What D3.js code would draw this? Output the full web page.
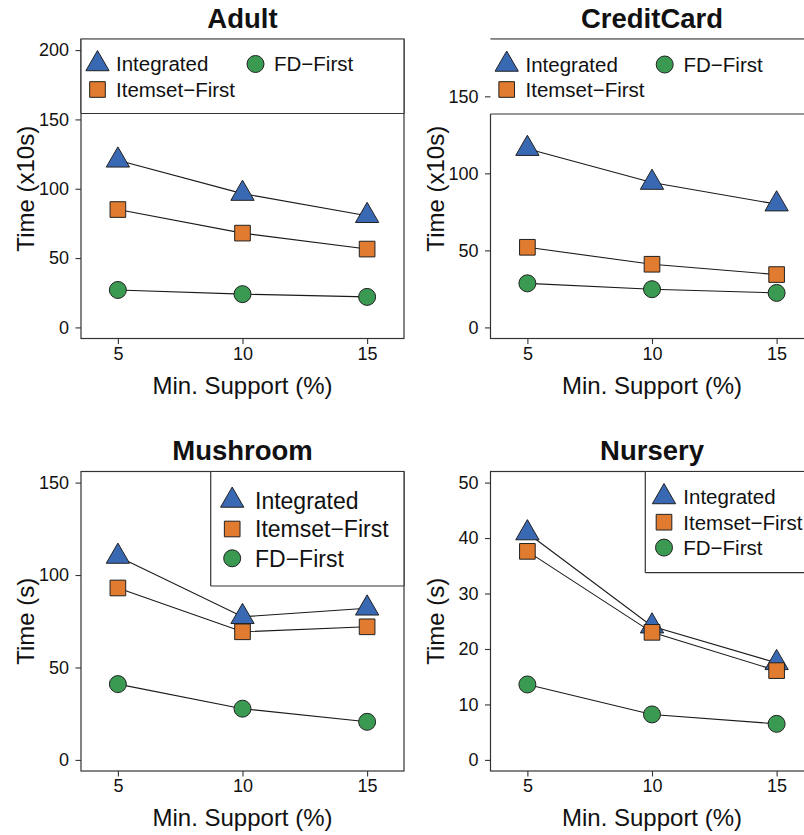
<!DOCTYPE html>
<html>
<head>
<meta charset="utf-8">
<script src="https://cdn.jsdelivr.net/npm/d3@7"></script>
<style>
  body { margin: 0; background: #fff; }
  svg { display: block; }
  text { font-family: "Liberation Sans", Arial, Helvetica, sans-serif; fill: #111; }
</style>
</head>
<body>
<svg id="chart" width="804" height="835"></svg>
<script>
// Minimum support levels on the x axis (%)
const supportLevels = [5, 10, 15];
const seriesNames = ["Integrated", "Itemset\u2212First", "FD\u2212First"];

// Running times per dataset (Adult and CreditCard in units of 10 s, others in s)
const adultIntegrated = [120.5, 96.5, 80.5];
const adultItemsetFirst = [85, 68, 56.5];
const adultFDFirst = [27, 24, 22];

const creditIntegrated = [116, 94, 80];
const creditItemsetFirst = [52, 41, 34.3];
const creditFDFirst = [28.6, 24.8, 22.4];

const mushroomIntegrated = [110, 77.4, 82];
const mushroomItemsetFirst = [93, 69.3, 72];
const mushroomFDFirst = [41, 27.7, 20.6];

const nurseryIntegrated = [40.9, 24.1, 17.5];
const nurseryItemsetFirst = [37.6, 23, 16.1];
const nurseryFDFirst = [13.6, 8.2, 6.5];

// Tick labels
const xTicks = [5, 10, 15];
const adultTicks = [0, 50, 100, 150, 200];
const creditTicks = [0, 50, 100, 150];
const mushroomTicks = [0, 50, 100, 150];
const nurseryTicks = [0, 10, 20, 30, 40, 50];

// Styling
const fills = ["#3a69b4", "#e07b2f", "#3a9a52"];
const symbolTypes = [d3.symbolTriangle, d3.symbolSquare, d3.symbolCircle];
const symbolSizes = [235, 245, 227];
const ink = "#333";

const svg = d3.select("#chart");

const panels = [
  { title: "Adult", yTitle: "Time (x10s)", series: [adultIntegrated, adultItemsetFirst, adultFDFirst],
    yTicks: adultTicks, yDomain: [-8, 208], left: 81, top: 39,
    legend: { x0: 81, x1: 404, y0: 39, y1: 113.5, leftBorder: true, font: 20.5,
      items: [ { s: 0, x: 97.5, y: 64, tx: 116 }, { s: 2, x: 255.5, y: 64, tx: 274 }, { s: 1, x: 97.5, y: 89.5, tx: 116 } ] } },
  { title: "CreditCard", yTitle: "Time (x10s)", series: [creditIntegrated, creditItemsetFirst, creditFDFirst],
    yTicks: creditTicks, yDomain: [-7.2, 187.2], left: 490.5, top: 39,
    legend: { x0: 490.5, x1: 813.5, y0: 39, y1: 114, leftBorder: false, font: 20.5,
      items: [ { s: 0, x: 506.7, y: 64.5, tx: 525.5 }, { s: 2, x: 664.7, y: 64.5, tx: 683.5 }, { s: 1, x: 506.7, y: 89.5, tx: 525.5 } ] } },
  { title: "Mushroom", yTitle: "Time (s)", series: [mushroomIntegrated, mushroomItemsetFirst, mushroomFDFirst],
    yTicks: mushroomTicks, yDomain: [-6, 156], left: 81, top: 471.5,
    legend: { x0: 210.7, x1: 404, y0: 471.5, y1: 586, leftBorder: true, font: 23,
      items: [ { s: 0, x: 232.2, y: 500.5, tx: 255 }, { s: 1, x: 232.2, y: 529, tx: 255 }, { s: 2, x: 232.2, y: 558.3, tx: 255 } ] } },
  { title: "Nursery", yTitle: "Time (s)", series: [nurseryIntegrated, nurseryItemsetFirst, nurseryFDFirst],
    yTicks: nurseryTicks, yDomain: [-2, 52], left: 490.5, top: 471.5,
    legend: { x0: 645.3, x1: 820, y0: 471.5, y1: 572.7, leftBorder: true, font: 20.5,
      items: [ { s: 0, x: 664, y: 497, tx: 683.3 }, { s: 1, x: 664, y: 522.2, tx: 683.3 }, { s: 2, x: 664, y: 547.6, tx: 683.3 } ] } }
];

const boxW = 323, boxH = 299.5;

function symbolPath(i) {
  return d3.symbol().type(symbolTypes[i]).size(symbolSizes[i])();
}

panels.forEach(p => {
  const x0 = p.left, x1 = p.left + boxW, y0 = p.top, y1 = p.top + boxH;
  const x = d3.scaleLinear().domain([3.52, 16.48]).range([x0, x1]);
  const y = d3.scaleLinear().domain(p.yDomain).range([y1, y0]);
  const g = svg.append("g");

  // Title
  g.append("text")
    .attr("x", (x0 + x1) / 2).attr("y", y0 - 11.5)
    .attr("text-anchor", "middle")
    .style("font-size", "27.5px").style("font-weight", "bold")
    .text(p.title);

  // Series lines, then markers
  p.series.forEach((vals, si) => {
    const pts = supportLevels.map((s, k) => [s, vals[k]]);
    g.append("path")
      .attr("d", d3.line().x(d => x(d[0])).y(d => y(d[1]))(pts))
      .attr("fill", "none").attr("stroke", "#1a1a1a").attr("stroke-width", 1.1);
  });
  p.series.forEach((vals, si) => {
    g.selectAll(null).data(supportLevels.map((s, k) => [s, vals[k]])).enter()
      .append("path")
      .attr("d", symbolPath(si))
      .attr("transform", d => `translate(${x(d[0])},${y(d[1])})`)
      .attr("fill", fills[si]).attr("stroke", "#222").attr("stroke-width", 1);
  });

  // Plot frame
  g.append("rect")
    .attr("x", x0).attr("y", y0).attr("width", boxW).attr("height", boxH)
    .attr("fill", "none").attr("stroke", ink).attr("stroke-width", 1.2);

  // Legend
  const L = p.legend;
  g.append("rect")
    .attr("x", L.leftBorder ? L.x0 : L.x0 - 2).attr("y", L.y0 - 0.6)
    .attr("width", L.x1 - L.x0 + (L.leftBorder ? 0 : 2)).attr("height", L.y1 - L.y0 + 0.6)
    .attr("fill", "#fff");
  const lg = g.append("g").attr("stroke", ink).attr("stroke-width", 1.2);
  lg.append("line").attr("x1", L.x0).attr("x2", L.x1).attr("y1", L.y0).attr("y2", L.y0);
  lg.append("line").attr("x1", L.x0).attr("x2", L.x1).attr("y1", L.y1).attr("y2", L.y1);
  lg.append("line").attr("x1", L.x1).attr("x2", L.x1).attr("y1", L.y0).attr("y2", L.y1);
  if (L.leftBorder) lg.append("line").attr("x1", L.x0).attr("x2", L.x0).attr("y1", L.y0).attr("y2", L.y1);
  L.items.forEach(it => {
    g.append("path").attr("d", symbolPath(it.s))
      .attr("transform", `translate(${it.x},${it.y})`)
      .attr("fill", fills[it.s]).attr("stroke", "#222").attr("stroke-width", 1);
    g.append("text").attr("x", it.tx).attr("y", it.y).attr("dy", "0.36em")
      .style("font-size", L.font + "px").text(seriesNames[it.s]);
  });

  // Axes
  const ya = g.append("g").attr("transform", `translate(${x0},0)`)
    .call(d3.axisLeft(y).tickValues(p.yTicks).tickSize(5.5).tickPadding(6.5));
  ya.select(".domain").remove();
  ya.selectAll("line").attr("stroke", ink).attr("stroke-width", 1.1);
  ya.selectAll("text").style("font-size", "18px").attr("fill", "#111")
    .style("font-family", "'Liberation Sans', Arial, sans-serif");

  const xa = g.append("g").attr("transform", `translate(0,${y1})`)
    .call(d3.axisBottom(x).tickValues(xTicks).tickSize(5.5).tickPadding(3));
  xa.select(".domain").remove();
  xa.selectAll("line").attr("stroke", ink).attr("stroke-width", 1.1);
  xa.selectAll("text").style("font-size", "18px").attr("fill", "#111")
    .style("font-family", "'Liberation Sans', Arial, sans-serif");

  // Axis titles
  g.append("text")
    .attr("x", (x0 + x1) / 2).attr("y", y1 + 55)
    .attr("text-anchor", "middle").style("font-size", "24px")
    .text("Min. Support (%)");
  g.append("text")
    .attr("transform", `translate(${x0 - 47},${(y0 + y1) / 2}) rotate(-90)`)
    .attr("text-anchor", "middle").style("font-size", "24px")
    .text(p.yTitle);
});
</script>
</body>
</html>
